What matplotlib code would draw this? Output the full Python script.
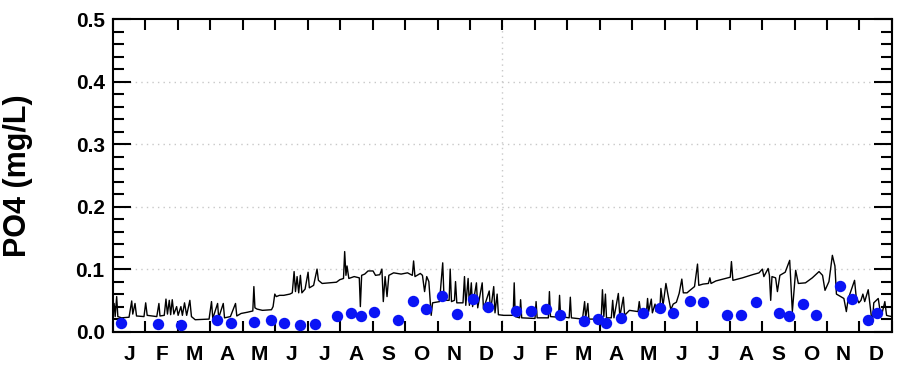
import numpy as np
import matplotlib.pyplot as plt

plt.rcParams['font.family'] = ['Liberation Sans', 'DejaVu Sans']

# modelled daily PO4 (day of record, mg/L) over two years
line_day = [0, 1, 2, 3.4, 4.5, 8, 15, 17.5, 18.5, 20.6, 22, 29, 30.6, 32, 41, 43, 44, 48,
            49.6, 51, 52.7, 54, 55.5, 57, 59.6, 61, 63.6, 65, 67, 69, 72, 73.5, 77, 90,
            92.3, 93.5, 98, 99, 103.3, 104.5, 110, 114.8, 116, 120, 126, 131, 132, 133,
            135, 140, 148.5, 150, 151.6, 153, 156, 160, 165.7, 168, 169.7, 171, 172.5,
            174, 175.6, 177, 180, 182.8, 184, 188, 191.2, 192.5, 196, 203, 209.4, 212.5,
            216, 217.1, 218.3, 219.3, 221, 226, 230.8, 231.8, 233, 235.9, 239, 243.7,
            246, 250, 252, 253.3, 255, 256.8, 258.5, 263, 270, 276, 280.5, 281.7, 283,
            288, 290, 292, 294, 296, 298.2, 299.5, 306, 309, 310.3, 315, 316, 317.2,
            320, 321, 322.2, 328, 329.4, 330.6, 332.8, 334, 335.8, 337, 340.6, 341.8,
            346, 347.2, 352.6, 353.8, 356.8, 358, 360, 361.2, 366,
            375, 376, 377, 381, 382, 383, 395.5, 396.5, 397.5, 408, 409, 410, 417.5,
            418.5, 419.5, 427.5, 428.6, 429.6, 440, 442, 443, 445, 446, 457.5, 458.7,
            460, 461.5, 462.5, 467, 468.3, 469.5, 473.6, 475, 478.3, 479.5, 484, 492,
            493.2, 494.5, 500, 501, 502, 504.5, 505.5, 508, 509, 512.5, 513.5, 515.5,
            518.2, 520, 522.8, 525, 528, 530.6, 533.1, 534.5, 538, 540, 545, 547.8, 549,
            553, 558, 559.4, 560.5, 565, 574, 578.5, 579.6, 581, 590, 599.3, 605.5,
            608.6, 610, 614, 615.2, 616.4, 617.6, 621, 622.7, 625, 630, 634.2, 636.7,
            639.8, 642.3, 649, 655.4, 661.7, 665, 667.3, 671, 674.2, 676.6, 678, 681,
            685, 687.3, 689, 695, 696.5, 699, 701, 702.8, 704.5, 707.8, 711.6, 713,
            717.2, 719, 721, 723.4, 725, 727, 730]
line_po4 = [0.032, 0.045, 0.024, 0.056, 0.024, 0.022, 0.023, 0.049, 0.028, 0.045, 0.025,
            0.024, 0.046, 0.026, 0.024, 0.045, 0.025, 0.026, 0.052, 0.028, 0.050, 0.027,
            0.051, 0.028, 0.040, 0.026, 0.040, 0.026, 0.046, 0.026, 0.050, 0.024, 0.019,
            0.020, 0.048, 0.021, 0.045, 0.022, 0.045, 0.022, 0.024, 0.045, 0.025, 0.029,
            0.031, 0.033, 0.072, 0.038, 0.036, 0.034, 0.035, 0.040, 0.060, 0.056, 0.058,
            0.058, 0.060, 0.062, 0.096, 0.064, 0.088, 0.062, 0.090, 0.062, 0.068, 0.095,
            0.070, 0.074, 0.100, 0.082, 0.077, 0.078, 0.079, 0.083, 0.085, 0.128, 0.090,
            0.105, 0.085, 0.088, 0.086, 0.040, 0.090, 0.092, 0.097, 0.097, 0.090, 0.091,
            0.100, 0.048, 0.088, 0.056, 0.090, 0.094, 0.092, 0.094, 0.090, 0.113, 0.088,
            0.093, 0.090, 0.064, 0.088, 0.080, 0.026, 0.046, 0.048, 0.110, 0.050, 0.050,
            0.100, 0.048, 0.050, 0.080, 0.046, 0.046, 0.088, 0.042, 0.085, 0.042, 0.078,
            0.040, 0.078, 0.038, 0.078, 0.036, 0.065, 0.032, 0.072, 0.030, 0.060, 0.027,
            0.026,
            0.026, 0.078, 0.024, 0.022, 0.051, 0.022, 0.021, 0.048, 0.022, 0.022, 0.064,
            0.024, 0.023, 0.058, 0.024, 0.022, 0.055, 0.022, 0.020, 0.048, 0.022, 0.045,
            0.020, 0.020, 0.067, 0.024, 0.060, 0.022, 0.022, 0.050, 0.022, 0.061, 0.024,
            0.055, 0.026, 0.034, 0.032, 0.048, 0.030, 0.032, 0.053, 0.032, 0.052, 0.030,
            0.044, 0.032, 0.034, 0.069, 0.042, 0.077, 0.060, 0.035, 0.044, 0.047, 0.061,
            0.084, 0.062, 0.062, 0.065, 0.072, 0.108, 0.074, 0.076, 0.077, 0.086, 0.077,
            0.081, 0.085, 0.087, 0.112, 0.082, 0.086, 0.091, 0.094, 0.100, 0.088, 0.101,
            0.090, 0.050, 0.088, 0.086, 0.064, 0.090, 0.095, 0.114, 0.032, 0.098, 0.077,
            0.078, 0.086, 0.096, 0.090, 0.066, 0.080, 0.122, 0.105, 0.060, 0.057, 0.053,
            0.032, 0.052, 0.082, 0.056, 0.046, 0.050, 0.060, 0.048, 0.067, 0.012, 0.046,
            0.053, 0.032, 0.031, 0.048, 0.026, 0.025, 0.024]

# observed samples
obs_day = [7.5, 42, 64, 97, 111, 132, 148, 160, 175, 189, 210, 223, 232, 245, 267,
           281, 293, 308, 322, 337, 351,
           378, 392, 406, 419, 441, 455, 462, 476, 497, 513, 525, 541, 553, 575, 589,
           603, 624, 634, 647, 659, 681, 693, 708, 716]
obs_po4 = [0.013, 0.012, 0.011, 0.018, 0.014, 0.015, 0.018, 0.014, 0.011, 0.012, 0.025,
           0.030, 0.025, 0.031, 0.018, 0.049, 0.036, 0.057, 0.028, 0.052, 0.040,
           0.033, 0.033, 0.036, 0.026, 0.017, 0.020, 0.014, 0.021, 0.030, 0.038, 0.029,
           0.049, 0.048, 0.026, 0.026, 0.047, 0.029, 0.025, 0.044, 0.026, 0.073, 0.052,
           0.018, 0.029]

months = ['J', 'F', 'M', 'A', 'M', 'J', 'J', 'A', 'S', 'O', 'N', 'D'] * 2
n_days = 730

fig = plt.figure(figsize=(9, 3.66), dpi=100)
ax = fig.add_axes([0.1256, 0.094, 0.8654, 0.854])

ax.plot(line_day, line_po4, color='black', lw=1.0, zorder=3)
ax.plot(obs_day, obs_po4, 'o', color='#0a14f5', ms=8.2, mec='none', zorder=4)

ax.set_xlim(0, n_days)
ax.set_ylim(0, 0.5)

# month boundaries as ticks, month letters centred between them
edges = np.arange(25) * n_days / 24
ax.set_xticks(edges)
ax.set_xticklabels([])
ax.set_xticks(edges[:-1] + n_days / 48, minor=True)
ax.set_xticklabels(months, minor=True, fontsize=15, fontweight='bold')
ax.tick_params(axis='x', which='major', direction='in', length=8, width=1.5,
               top=True, bottom=True)
ax.tick_params(axis='x', which='minor', length=0, pad=10)

ax.set_yticks(np.arange(0, 0.51, 0.1))
ax.set_yticklabels(['0.0', '0.1', '0.2', '0.3', '0.4', '0.5'],
                   fontsize=15, fontweight='bold')
ax.set_yticks(np.arange(0, 0.5, 0.02), minor=True)
ax.tick_params(axis='y', which='major', direction='in', length=13, width=1.5,
               left=True, right=True, pad=6)
ax.tick_params(axis='y', which='minor', direction='in', length=8, width=1.5,
               left=True, right=True)

for v in [0.1, 0.2, 0.3, 0.4]:
    ax.axhline(v, color='#c8c8c8', lw=1, ls=(0, (1, 3)), zorder=1)
ax.axvline(365, color='#c8c8c8', lw=1, ls=(0, (1, 3)), zorder=1)

for s in ax.spines.values():
    s.set_linewidth(1.5)

ax.set_ylabel('PO4 (mg/L)', fontsize=22, fontweight='bold')
ax.yaxis.set_label_coords(-0.1026, 0.5)

fig.savefig('out.png', dpi=100)
